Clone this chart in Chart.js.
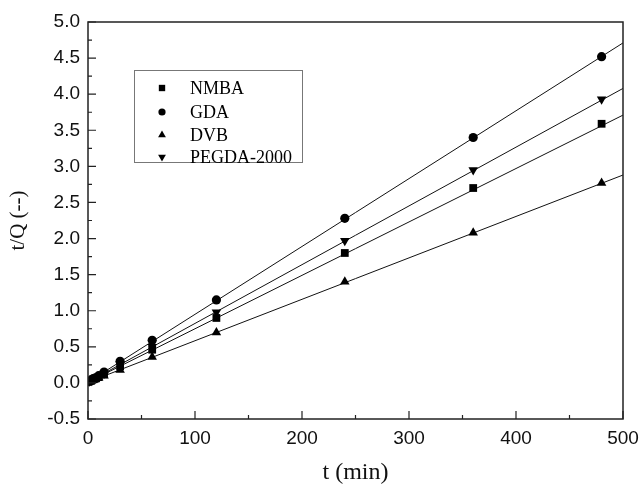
<!DOCTYPE html>
<html>
<head>
<meta charset="utf-8">
<script src="https://cdn.jsdelivr.net/npm/chart.js"></script>
<style>
  html, body { margin: 0; padding: 0; background: #fff; }
  #wrap { width: 642px; height: 485px; }
</style>
</head>
<body>
<div id="wrap"><canvas id="myChart" width="642" height="485"></canvas></div>
<script>
var tValues = [1, 3, 5, 7, 10, 15, 30, 60, 120, 240, 360, 480];
var nmbaValues = [0.02, 0.03, 0.05, 0.06, 0.08, 0.12, 0.23, 0.46, 0.90, 1.80, 2.70, 3.59];
var gdaValues = [0.02, 0.04, 0.06, 0.07, 0.10, 0.15, 0.30, 0.59, 1.15, 2.28, 3.40, 4.52];
var dvbValues = [0.01, 0.03, 0.04, 0.05, 0.07, 0.10, 0.18, 0.36, 0.70, 1.40, 2.08, 2.77];
var pegdaValues = [0.02, 0.03, 0.05, 0.07, 0.09, 0.13, 0.26, 0.50, 0.98, 1.97, 2.95, 3.93];

// fitted lines, value at t = 0 and t = 500
var fitT = [0, 500];
var nmbaFit = [0.01, 3.71];
var gdaFit = [0.01, 4.71];
var dvbFit = [0.01, 2.88];
var pegdaFit = [0.01, 4.08];

var seriesNames = ["NMBA", "GDA", "DVB", "PEGDA-2000"];
var markerStyles = ["rect", "circle", "triangle", "triangle"];
var markerRot = [0, 0, 0, 180];
var markerSize = [5.5, 4.6, 5.5, 5.5];

var xTicks = [0, 100, 200, 300, 400, 500];
var yTicks = [-0.5, 0, 0.5, 1, 1.5, 2, 2.5, 3, 3.5, 4, 4.5, 5];

function pts(xs, ys) {
    return xs.map(function (x, i) { return { x: x, y: ys[i] }; });
}

var pointSets = [nmbaValues, gdaValues, dvbValues, pegdaValues];
var fitSets = [nmbaFit, gdaFit, dvbFit, pegdaFit];

var datasets = [];
fitSets.forEach(function (f, i) {
    datasets.push({
        type: "line",
        label: seriesNames[i] + " fit",
        data: pts(fitT, f),
        borderColor: "#111",
        borderWidth: 1,
        pointRadius: 0,
        fill: false,
        order: 2
    });
});
pointSets.forEach(function (v, i) {
    datasets.push({
        type: "scatter",
        label: seriesNames[i],
        data: pts(tValues, v),
        backgroundColor: "#000",
        borderColor: "#000",
        borderWidth: 0,
        pointStyle: markerStyles[i],
        rotation: markerRot[i],
        pointRadius: markerSize[i],
        showLine: false,
        order: 1
    });
});

// frame, inward ticks and the boxed legend
var framePlugin = {
    id: "frame",
    afterDraw: function (chart) {
        var ctx = chart.ctx;
        var a = chart.chartArea;
        var xs = chart.scales.x, ys = chart.scales.y;
        ctx.save();
        ctx.strokeStyle = "#222";
        ctx.lineWidth = 1.5;
        ctx.strokeRect(a.left, a.top, a.right - a.left, a.bottom - a.top);
        ctx.lineWidth = 1.2;
        ctx.beginPath();
        for (var t = 0; t <= 500; t += 50) {
            var px = xs.getPixelForValue(t);
            var len = (t % 100 === 0) ? 8 : 4;
            ctx.moveTo(px, a.bottom);
            ctx.lineTo(px, a.bottom - len);
        }
        for (var k = 0; k <= 22; k++) {
            var v = -0.5 + k * 0.25;
            var py = ys.getPixelForValue(v);
            var l2 = (k % 2 === 0) ? 8 : 4;
            ctx.moveTo(a.left, py);
            ctx.lineTo(a.left + l2, py);
        }
        ctx.stroke();

        // legend
        ctx.strokeStyle = "#777";
        ctx.lineWidth = 1;
        ctx.strokeRect(134.5, 70.5, 168, 92);
        ctx.fillStyle = "#000";
        ctx.font = "18px 'Liberation Serif', 'Times New Roman', serif";
        ctx.textBaseline = "middle";
        var rows = [88, 112, 135, 157];
        seriesNames.forEach(function (name, i) {
            Chart.helpers.drawPoint(ctx, {
                pointStyle: markerStyles[i],
                rotation: markerRot[i],
                radius: markerSize[i] - 1,
                borderWidth: 0
            }, 162, rows[i]);
            ctx.fillText(name, 190, rows[i] + 1);
        });
        ctx.restore();
    }
};

new Chart("myChart", {
    type: "scatter",
    data: { datasets: datasets },
    plugins: [framePlugin],
    options: {
        responsive: false,
        animation: false,
        layout: { padding: { left: 0, top: 22, right: 19, bottom: 0 } },
        plugins: {
            legend: { display: false },
            tooltip: { enabled: false }
        },
        scales: {
            x: {
                type: "linear",
                min: 0,
                max: 500,
                afterFit: function (s) { s.height = 66; s.paddingLeft = 0; s.paddingRight = 0; },
                afterBuildTicks: function (s) { s.ticks = xTicks.map(function (v) { return { value: v }; }); },
                grid: { display: true, drawOnChartArea: false, drawTicks: false },
                border: { display: false },
                ticks: {
                    padding: 8,
                    color: "#111",
                    font: { family: "'Liberation Sans', Arial, sans-serif", size: 19 },
                    maxRotation: 0
                },
                title: {
                    display: true,
                    text: "t (min)",
                    color: "#111",
                    padding: { top: 0, bottom: 0 },
                    font: { family: "'Liberation Serif', 'Times New Roman', serif", size: 24, lineHeight: 1 }
                }
            },
            y: {
                type: "linear",
                min: -0.5,
                max: 5,
                afterFit: function (s) { s.width = 88; s.paddingTop = 0; s.paddingBottom = 0; },
                afterBuildTicks: function (s) { s.ticks = yTicks.map(function (v) { return { value: v }; }); },
                grid: { display: true, drawOnChartArea: false, drawTicks: false },
                border: { display: false },
                ticks: {
                    padding: 8,
                    color: "#111",
                    font: { family: "'Liberation Sans', Arial, sans-serif", size: 19 },
                    callback: function (v) { return v.toFixed(1); }
                },
                title: {
                    display: true,
                    text: "t/Q (--)",
                    color: "#111",
                    padding: { top: 8, bottom: 0 },
                    font: { family: "'Liberation Serif', 'Times New Roman', serif", size: 21, lineHeight: 1 }
                }
            }
        }
    }
});
</script>
</body>
</html>
